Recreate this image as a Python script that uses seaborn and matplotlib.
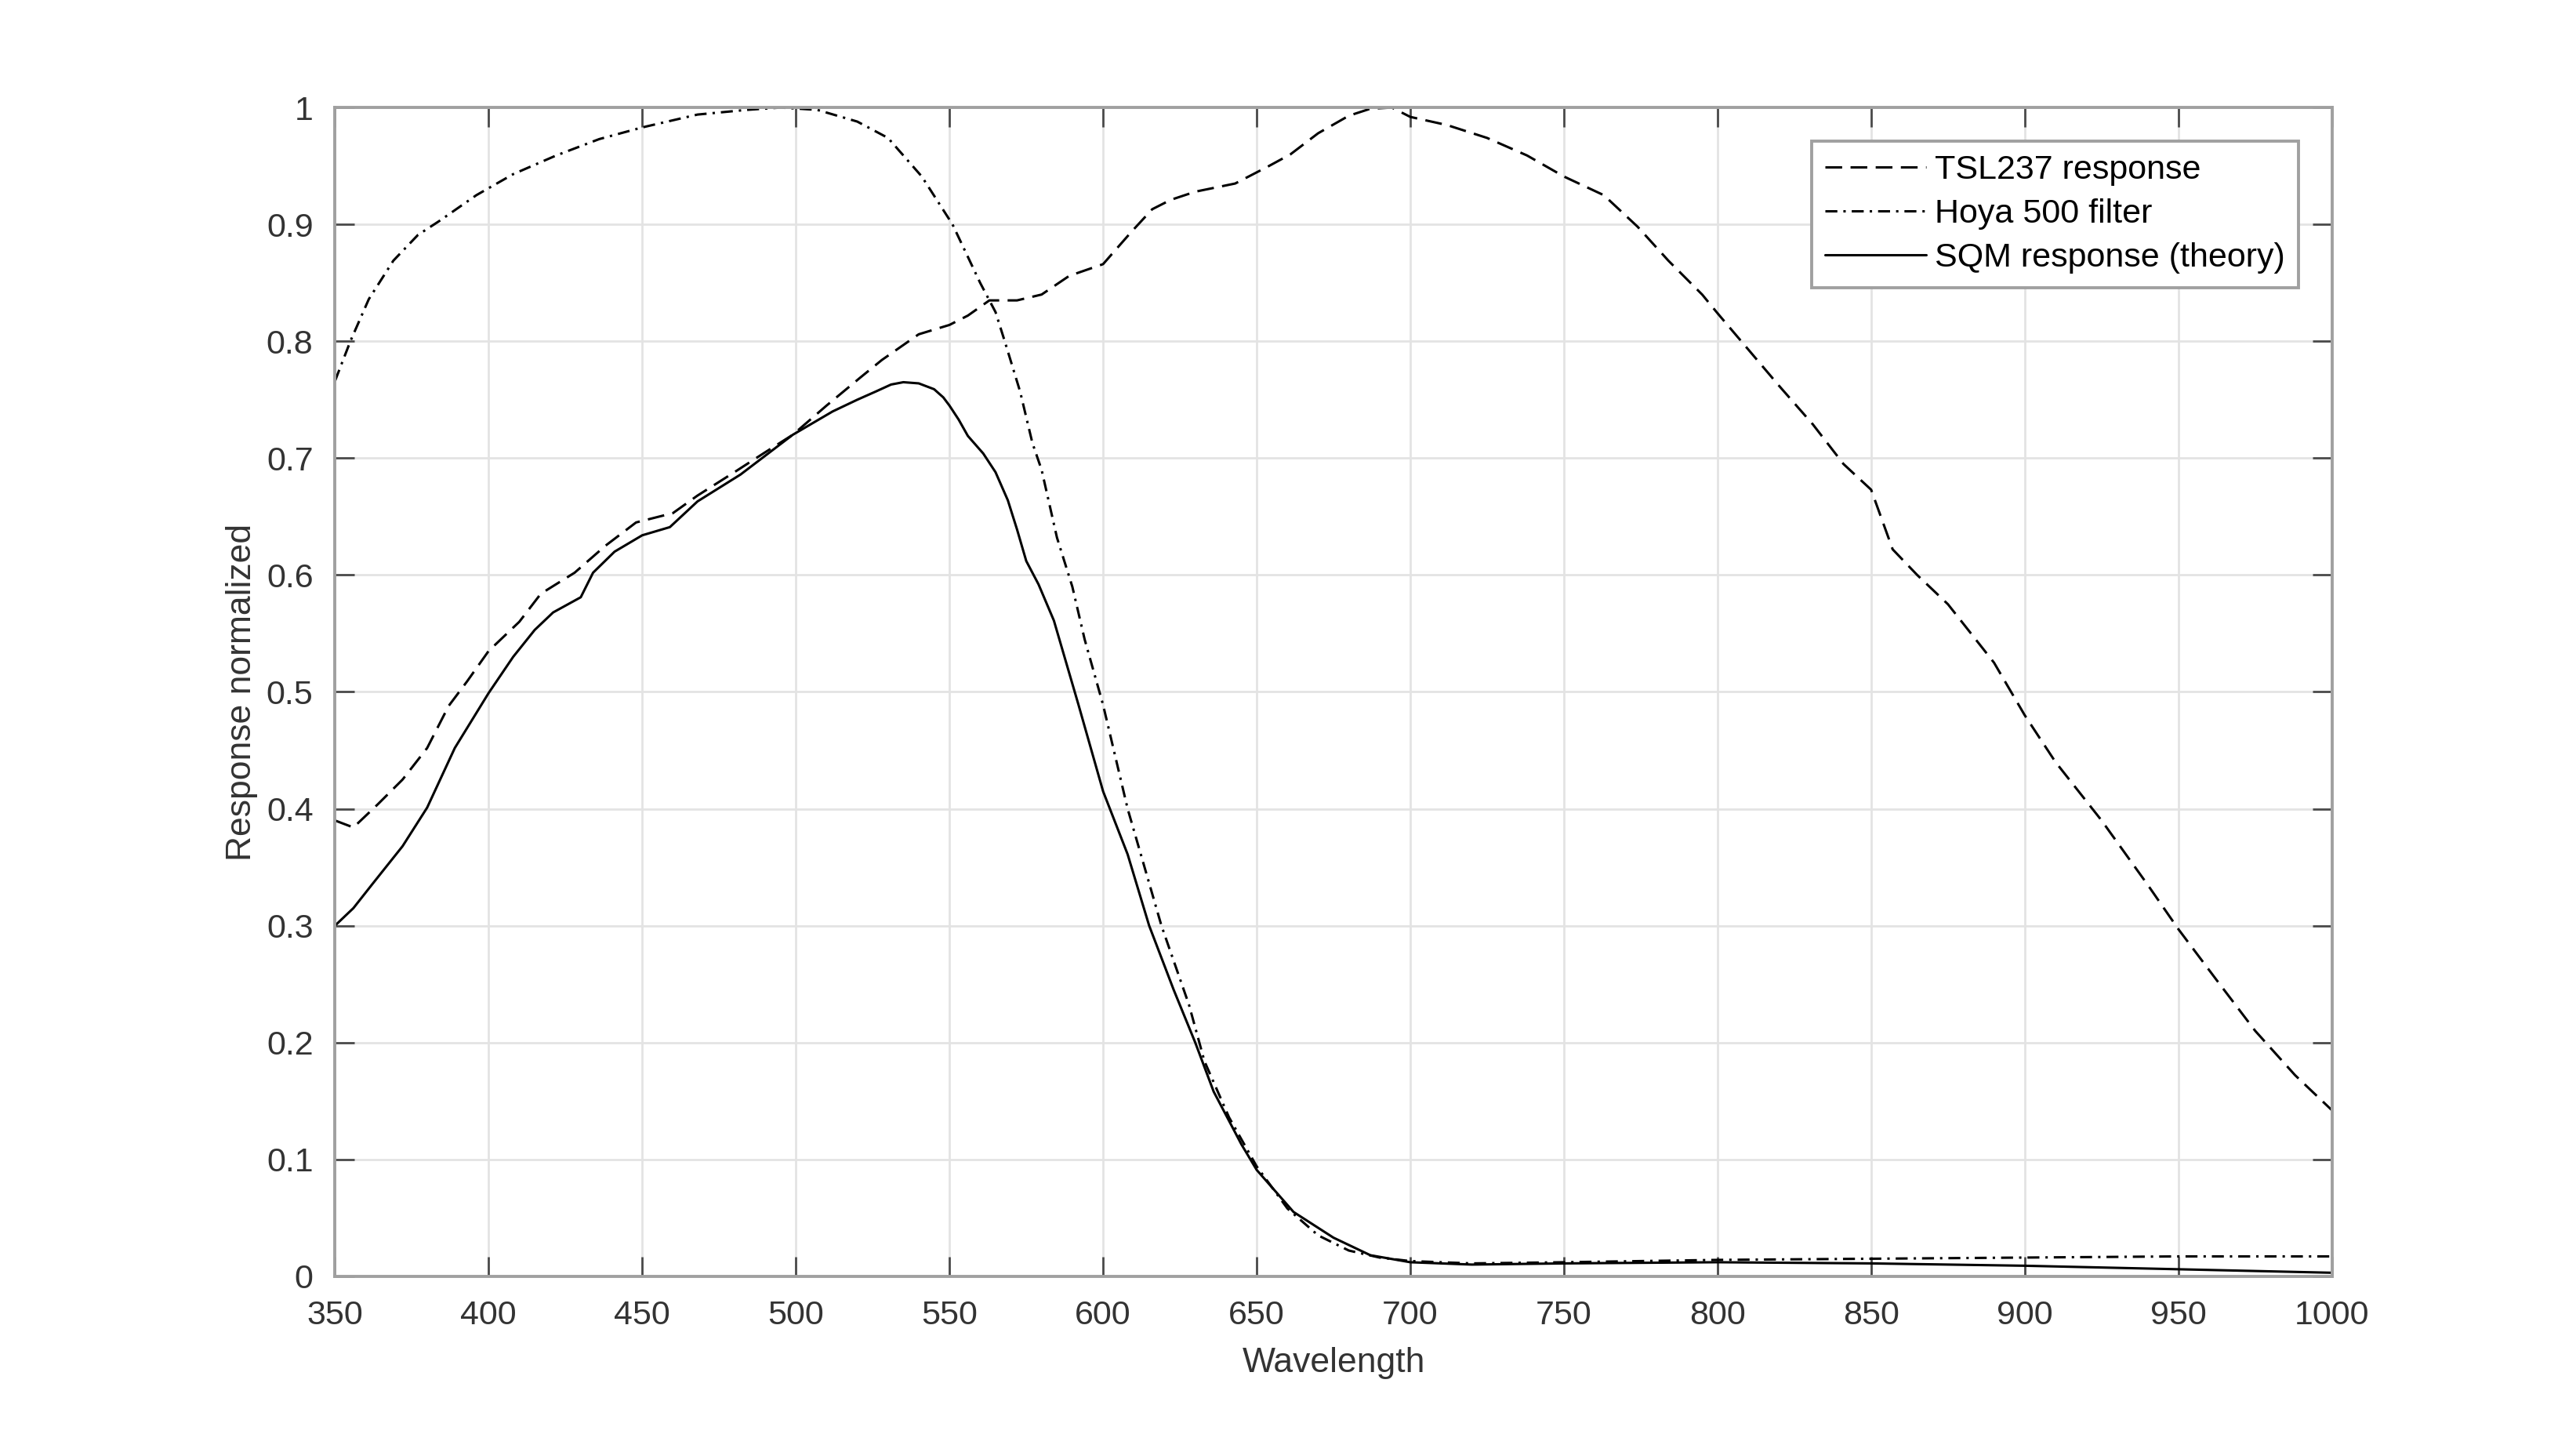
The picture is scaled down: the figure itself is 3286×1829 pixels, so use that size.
import numpy as np
import pandas as pd
import seaborn as sns
import matplotlib.pyplot as plt

# %%
# curves (wavelength in nm, response normalized)
tsl_wl = [350, 356, 364, 372, 380, 387, 393, 400, 410, 417, 428, 438, 448, 460, 468,
          480, 490, 499, 510, 521, 528, 540, 550, 556, 563, 572, 580, 589, 600, 609,
          616, 622, 630, 643, 654, 661, 670, 680, 687, 694, 700, 712, 725, 738, 750,
          763, 774, 784, 795, 800, 810, 820, 831, 841, 850, 857, 865, 875, 890, 900,
          910, 925, 940, 950, 962, 975, 988, 1000]
tsl_resp = [0.390, 0.384, 0.404, 0.425, 0.452, 0.488, 0.509, 0.535, 0.560, 0.584, 0.602, 0.625,
            0.645, 0.653, 0.668, 0.688, 0.705, 0.720, 0.745, 0.769, 0.784, 0.806, 0.814, 0.822,
            0.835, 0.835, 0.840, 0.856, 0.866, 0.893, 0.913, 0.921, 0.928, 0.935, 0.950, 0.960,
            0.978, 0.993, 0.999, 1.000, 0.992, 0.985, 0.974, 0.959, 0.941, 0.925, 0.898, 0.869,
            0.840, 0.824, 0.793, 0.762, 0.729, 0.695, 0.673, 0.622, 0.600, 0.575, 0.525, 0.480,
            0.440, 0.390, 0.335, 0.297, 0.255, 0.210, 0.172, 0.142]

hoya_wl = [350, 355, 361, 369, 377, 384, 396, 408, 422, 436, 450, 468, 484, 495, 507,
           520, 530, 541, 551, 560, 565, 568, 573, 577, 580, 585, 590, 594, 600, 608,
           619, 628, 633, 641, 650, 660, 670, 680, 690, 700, 720, 750, 800, 850, 900,
           950, 1000]
hoya_resp = [0.766, 0.800, 0.836, 0.869, 0.891, 0.903, 0.925, 0.943, 0.959, 0.973, 0.983, 0.994,
             0.998, 1.000, 0.998, 0.988, 0.974, 0.941, 0.900, 0.850, 0.825, 0.800, 0.757, 0.713,
             0.690, 0.632, 0.590, 0.545, 0.489, 0.400, 0.300, 0.232, 0.184, 0.136, 0.094, 0.058,
             0.035, 0.022, 0.016, 0.013, 0.011, 0.012, 0.014, 0.015, 0.016, 0.017, 0.017]

sqm_wl = [350, 356, 362, 372, 380, 389, 400, 408, 415, 421, 430, 434, 441, 450, 459,
          468, 482, 499, 512, 520, 526, 531, 535, 540, 545, 548, 550, 553, 556, 561, 565,
          569, 572, 575, 579, 584, 589, 592, 600, 608, 615, 623, 630, 636, 645, 650, 662,
          675, 687, 700, 720, 750, 800, 850, 900, 950, 1000]
sqm_resp = [0.300, 0.315, 0.335, 0.368, 0.401, 0.452, 0.499, 0.530, 0.553, 0.568, 0.581, 0.602,
            0.620, 0.634, 0.641, 0.663, 0.686, 0.720, 0.740, 0.750, 0.757, 0.763, 0.765, 0.764,
            0.759, 0.752, 0.745, 0.733, 0.719, 0.704, 0.688, 0.664, 0.639, 0.612, 0.592, 0.561,
            0.516, 0.489, 0.415, 0.361, 0.300, 0.245, 0.200, 0.158, 0.113, 0.091, 0.055, 0.033,
            0.018, 0.012, 0.010, 0.011, 0.012, 0.011, 0.009, 0.006, 0.003]

x_ticks = list(range(350, 1001, 50))
y_ticks = [0, 0.1, 0.2, 0.3, 0.4, 0.5, 0.6, 0.7, 0.8, 0.9, 1]
y_labels = ['0', '0.1', '0.2', '0.3', '0.4', '0.5', '0.6', '0.7', '0.8', '0.9', '1']

# %%
sns.set_theme(style='white')
plt.rcParams['font.family'] = ['Liberation Sans', 'DejaVu Sans']

fig = plt.figure(figsize=(3287 / 200, 1829 / 200), dpi=200)
ax = fig.add_axes([0.13, 0.11, 0.775, 0.815])

lw = 1.1
sns.lineplot(x=tsl_wl, y=tsl_resp, ax=ax, color='black', lw=lw,
             label='TSL237 response', sort=False)
sns.lineplot(x=hoya_wl, y=hoya_resp, ax=ax, color='black', lw=lw,
             label='Hoya 500 filter', sort=False)
sns.lineplot(x=sqm_wl, y=sqm_resp, ax=ax, color='black', lw=lw,
             label='SQM response (theory)', sort=False)

lines = ax.get_lines()
lines[0].set_dashes((7, 3.5))
lines[1].set_dashes((5, 2.5, 1, 2.5))
for ln in lines:
    ln.set_solid_joinstyle('round')
    ln.set_dash_joinstyle('round')

ax.set_xlim(350, 1000)
ax.set_ylim(0, 1)
ax.set_xticks(x_ticks)
ax.set_xticklabels([str(t) for t in x_ticks])
ax.set_yticks(y_ticks)
ax.set_yticklabels(y_labels)

ax.grid(True, color='#e3e3e3', lw=1.0)
ax.set_axisbelow(True)
for s in ax.spines.values():
    s.set_visible(True)
    s.set_color('#a0a0a0')
    s.set_linewidth(1.4)

ax.tick_params(direction='in', length=9, width=1.0, color='#4a4a4a',
               labelsize=15.5, labelcolor='#333333', top=True, right=True,
               bottom=True, left=True)
ax.tick_params(axis='x', pad=11)
ax.tick_params(axis='y', pad=10)

ax.set_xlabel('Wavelength', fontsize=16, color='#333333', labelpad=7)
ax.set_ylabel('Response normalized', fontsize=16, color='#333333', labelpad=4)

leg = ax.legend(loc='upper right', fontsize=15.5, frameon=True, fancybox=False,
                edgecolor='#a0a0a0', framealpha=1, handlelength=3.0,
                handletextpad=0.25, labelspacing=0.37, borderpad=0.4,
                borderaxespad=1.0)
leg.get_frame().set_linewidth(1.4)
for t in leg.get_texts():
    t.set_color('black')

plt.savefig('out.png', dpi=200, facecolor='white')
